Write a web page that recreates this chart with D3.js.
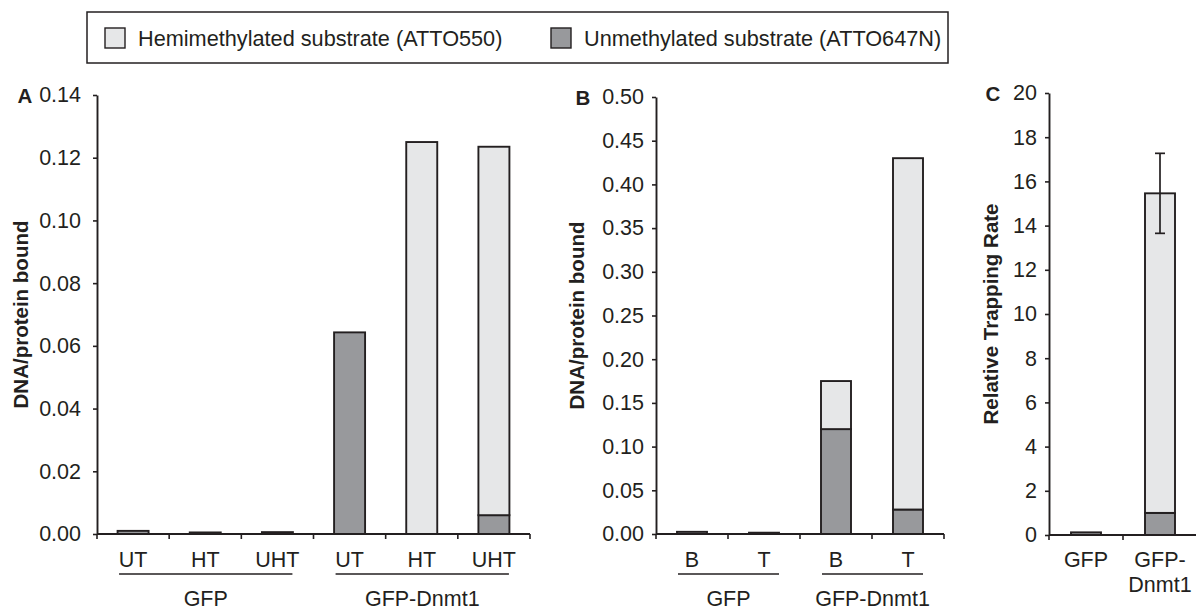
<!DOCTYPE html>
<html>
<head>
<meta charset="utf-8">
<script src="https://cdn.jsdelivr.net/npm/d3@7"></script>
<style>
  body { margin: 0; background: #fff; }
  text { font-family: "Liberation Sans", Arial, sans-serif; fill: #231f20; }
</style>
</head>
<body>
<div id="frame"></div>
<script>
// data
const legendKeys = ["Hemimethylated substrate (ATTO550)", "Unmethylated substrate (ATTO647N)"];

const aCats = ["UT", "HT", "UHT", "UT", "HT", "UHT"];
const aGroups = ["GFP", "GFP-Dnmt1"];
const aGroupIdx = [[0, 2], [3, 5]];
const aUnmeth = [0.0010, 0.0005, 0.0006, 0.0643, 0, 0.0060];
const aHemi = [0, 0, 0, 0, 0.1250, 0.1175];
const aTicks = [0, 0.02, 0.04, 0.06, 0.08, 0.10, 0.12, 0.14];

const bCats = ["B", "T", "B", "T"];
const bGroups = ["GFP", "GFP-Dnmt1"];
const bGroupIdx = [[0, 1], [2, 3]];
const bUnmeth = [0.0025, 0.0015, 0.120, 0.028];
const bHemi = [0, 0, 0.055, 0.402];
const bTicks = [0, 0.05, 0.10, 0.15, 0.20, 0.25, 0.30, 0.35, 0.40, 0.45, 0.50];

const cCats = [["GFP"], ["GFP-", "Dnmt1"]];
const cUnmeth = [0.12, 1.0];
const cHemi = [0, 14.46];
const cErrLow = [null, 13.65];
const cErrHigh = [null, 17.27];
const cTicks = [0, 2, 4, 6, 8, 10, 12, 14, 16, 18, 20];

const hemiColor = "#e6e7e8";
const unmethColor = "#98999c";
const ink = "#231f20";
const fs = "21.5px";

const svg = d3.select("#frame")
    .append("svg")
    .attr("width", 1196)
    .attr("height", 611);

// legend
const legend = svg.append("g");
legend.append("rect")
    .attr("x", 87).attr("y", 12)
    .attr("width", 861).attr("height", 51)
    .attr("fill", "none").attr("stroke", ink).attr("stroke-width", 1.5);

[hemiColor, unmethColor].forEach((c, i) => {
    const lx = i === 0 ? 105 : 551;
    legend.append("rect")
        .attr("x", lx).attr("y", 28)
        .attr("width", 20).attr("height", 20)
        .attr("fill", c).attr("stroke", ink).attr("stroke-width", 1.4);
    legend.append("text")
        .attr("x", lx + 33).attr("y", 45.5)
        .style("font-size", "21.7px")
        .text(legendKeys[i]);
});

function drawPanel(p) {
    const g = svg.append("g");
    const n = p.cats.length;

    const x = d3.scaleBand()
        .domain(d3.range(n))
        .range([p.left, p.right])
        .padding(0);

    const y = d3.scaleLinear()
        .domain([0, p.ticks[p.ticks.length - 1]])
        .range([p.bottom, p.top]);

    // bars: unmethylated below, hemimethylated stacked above
    const bars = d3.range(n).map(i => ({ i: i, u: p.unmeth[i], h: p.hemi[i] }));
    const cx = i => x(i) + x.bandwidth() / 2;

    bars.forEach(d => {
        if (d.u > 0) {
            g.append("rect")
                .attr("x", cx(d.i) - p.barW / 2)
                .attr("y", y(d.u))
                .attr("width", p.barW)
                .attr("height", y(0) - y(d.u))
                .attr("fill", unmethColor)
                .attr("stroke", ink).attr("stroke-width", 1.9);
        }
        if (d.h > 0) {
            g.append("rect")
                .attr("x", cx(d.i) - p.barW / 2)
                .attr("y", y(d.u + d.h))
                .attr("width", p.barW)
                .attr("height", y(d.u) - y(d.u + d.h))
                .attr("fill", hemiColor)
                .attr("stroke", ink).attr("stroke-width", 1.9);
        }
    });

    // error bars
    if (p.errLow) {
        p.errLow.forEach((lo, i) => {
            if (lo == null) return;
            const hi = p.errHigh[i];
            const ex = cx(i);
            g.append("line")
                .attr("x1", ex).attr("x2", ex)
                .attr("y1", y(lo)).attr("y2", y(hi))
                .attr("stroke", ink).attr("stroke-width", 1.7);
            [lo, hi].forEach(v => {
                g.append("line")
                    .attr("x1", ex - 5).attr("x2", ex + 5)
                    .attr("y1", y(v)).attr("y2", y(v))
                    .attr("stroke", ink).attr("stroke-width", 1.7);
            });
        });
    }

    // y axis
    const yAxis = g.append("g")
        .attr("transform", "translate(" + p.left + ",0)")
        .call(d3.axisLeft(y)
            .tickValues(p.ticks)
            .tickSize(4)
            .tickSizeOuter(0)
            .tickPadding(p.pad)
            .tickFormat(d3.format(p.fmt)));
    yAxis.select(".domain").attr("stroke", ink).attr("stroke-width", 1.9);
    yAxis.selectAll(".tick line").attr("stroke", ink).attr("stroke-width", 1.6);
    yAxis.selectAll(".tick text")
        .attr("fill", ink)
        .style("font-size", fs)
        .style("font-family", "'Liberation Sans', Arial, sans-serif");

    // x axis baseline and boundary ticks
    g.append("line")
        .attr("x1", p.left).attr("x2", p.right)
        .attr("y1", y(0)).attr("y2", y(0))
        .attr("stroke", ink).attr("stroke-width", 1.9);
    d3.range(n + 1).forEach(i => {
        const tx = i < n ? x(i) : p.right;
        g.append("line")
            .attr("x1", tx).attr("x2", tx)
            .attr("y1", y(0)).attr("y2", y(0) + 5)
            .attr("stroke", ink).attr("stroke-width", 1.6);
    });

    // category labels
    d3.range(n).forEach(i => {
        const lines = Array.isArray(p.cats[i]) ? p.cats[i] : [p.cats[i]];
        lines.forEach((s, k) => {
            g.append("text")
                .attr("x", cx(i))
                .attr("y", 567 + k * 25)
                .attr("text-anchor", "middle")
                .style("font-size", fs)
                .text(s);
        });
    });

    // group lines and labels
    if (p.groups) {
        p.groups.forEach((name, k) => {
            const a = cx(p.groupIdx[k][0]) - 14;
            const b = cx(p.groupIdx[k][1]) + 15;
            g.append("line")
                .attr("x1", a).attr("x2", b)
                .attr("y1", 574).attr("y2", 574)
                .attr("stroke", ink).attr("stroke-width", 1.6);
            g.append("text")
                .attr("x", (a + b) / 2)
                .attr("y", 605.5)
                .attr("text-anchor", "middle")
                .style("font-size", fs)
                .text(name);
        });
    }

    // axis title
    g.append("text")
        .attr("transform", "rotate(-90)")
        .attr("x", -(p.top + p.bottom) / 2)
        .attr("y", p.titleX)
        .attr("dy", "0.35em")
        .attr("text-anchor", "middle")
        .style("font-size", "20.5px")
        .style("font-weight", "bold")
        .text(p.title);

    // panel letter
    g.append("text")
        .attr("x", p.letterX)
        .attr("y", p.top + 7.5)
        .attr("text-anchor", "middle")
        .style("font-size", "20.5px")
        .style("font-weight", "bold")
        .text(p.letter);
}

drawPanel({
    letter: "A", title: "DNA/protein bound",
    cats: aCats, groups: aGroups, groupIdx: aGroupIdx,
    unmeth: aUnmeth, hemi: aHemi, ticks: aTicks, fmt: ".2f", pad: 12,
    left: 97, right: 530, top: 95, bottom: 534, barW: 31, titleX: 21, letterX: 25
});

drawPanel({
    letter: "B", title: "DNA/protein bound",
    cats: bCats, groups: bGroups, groupIdx: bGroupIdx,
    unmeth: bUnmeth, hemi: bHemi, ticks: bTicks, fmt: ".2f", pad: 8,
    left: 656, right: 944, top: 97, bottom: 534, barW: 30, titleX: 577, letterX: 583
});

drawPanel({
    letter: "C", title: "Relative Trapping Rate",
    cats: cCats,
    unmeth: cUnmeth, hemi: cHemi, ticks: cTicks, fmt: "d", pad: 8,
    errLow: cErrLow, errHigh: cErrHigh,
    left: 1049, right: 1197, top: 93, bottom: 535, barW: 30, titleX: 991, letterX: 993
});
</script>
</body>
</html>
